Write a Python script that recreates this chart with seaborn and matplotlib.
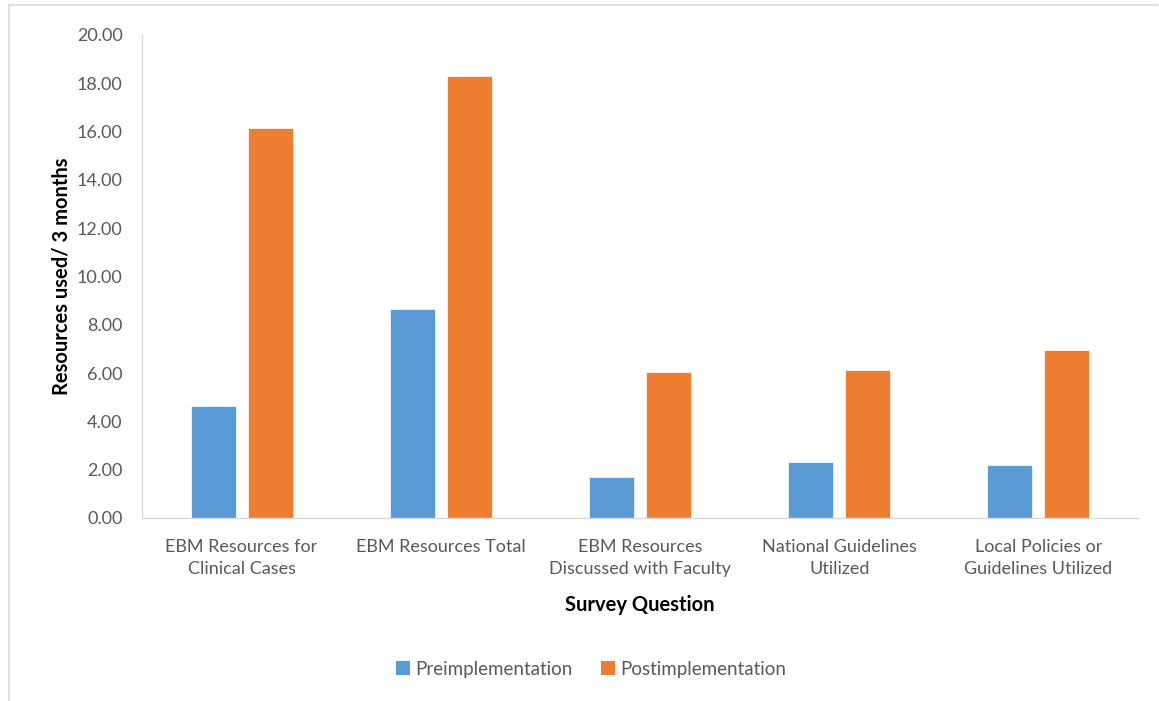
import matplotlib
matplotlib.use("Agg")
import matplotlib.pyplot as plt
import seaborn as sns
import pandas as pd
from matplotlib.lines import Line2D
from matplotlib.patches import Patch

categories = ["EBM Resources for\nClinical Cases", "EBM Resources Total",
              "EBM Resources\nDiscussed with Faculty", "National Guidelines\nUtilized",
              "Local Policies or\nGuidelines Utilized"]
series_names = ["Preimplementation", "Postimplementation"]
pre_values = [4.62, 8.66, 1.70, 2.31, 2.21]
post_values = [16.15, 18.32, 6.04, 6.13, 6.97]
y_ticks = [0, 2, 4, 6, 8, 10, 12, 14, 16, 18, 20]

colors = ["#5B9BD5", "#ED7D31"]

df = pd.DataFrame({
    "Survey Question": categories * 2,
    "value": pre_values + post_values,
    "series": [series_names[0]] * 5 + [series_names[1]] * 5,
})

sns.set_theme(style="white")
plt.rcParams["font.family"] = ["Lato", "DejaVu Sans"]

fig = plt.figure(figsize=(11.59, 7.01), dpi=100)
ax = fig.add_axes([142 / 1159, 1 - 518 / 701, (1138 - 142) / 1159, (518 - 35) / 701])

sns.barplot(data=df, x="Survey Question", y="value", hue="series",
            palette=colors, saturation=1, width=0.572, gap=0.21, ax=ax,
            edgecolor="#FFFFFF", linewidth=0.5, legend=False)

ax.set_ylim(0, 20)
ax.set_yticks(y_ticks)
ax.set_yticklabels([f"{t:.2f}" for t in y_ticks])
ax.tick_params(axis="both", length=0, colors="#595959", labelsize=13)
ax.tick_params(axis="y", pad=14)
ax.tick_params(axis="x", pad=15)
for lbl in ax.get_xticklabels():
    lbl.set_linespacing(1.45)

for s in ["top", "right"]:
    ax.spines[s].set_visible(False)
for s in ["left", "bottom"]:
    ax.spines[s].set_color("#D9D9D9")
    ax.spines[s].set_linewidth(1.0)

ax.set_xlabel("Survey Question", fontsize=14.5, fontweight="bold", color="black", labelpad=13)
ax.set_ylabel("Resources used/ 3 months", fontsize=14.5, fontweight="bold", color="black", labelpad=4)

handles = [Patch(facecolor=c, edgecolor="none") for c in colors]
fig.legend(handles, series_names, loc="center", bbox_to_anchor=(591 / 1159, 1 - 669 / 701),
           ncol=2, frameon=False, fontsize=13.5, handlelength=0.75, handleheight=0.75,
           columnspacing=1.5, handletextpad=0.3, labelcolor="#595959")

# outer chart frame
fig.add_artist(Line2D([9 / 1159, 9 / 1159], [0, 1 - 5 / 701], transform=fig.transFigure,
                      color="#D9D9D9", lw=1.2))
fig.add_artist(Line2D([9 / 1159, 1158 / 1159], [1 - 5 / 701, 1 - 5 / 701], transform=fig.transFigure,
                      color="#D9D9D9", lw=1.2))

fig.savefig("out.png", dpi=100)
